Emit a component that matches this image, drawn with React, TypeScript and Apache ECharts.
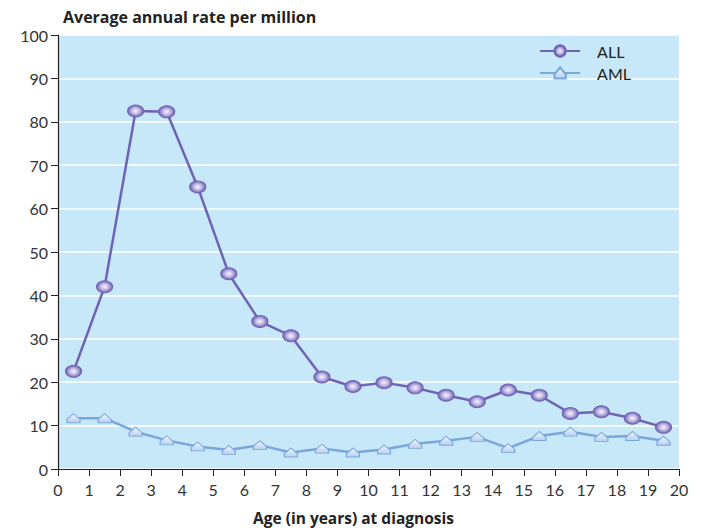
import React, { useEffect, useRef } from "react";
import * as echarts from "echarts";

const ages = [0.5, 1.5, 2.5, 3.5, 4.5, 5.5, 6.5, 7.5, 8.5, 9.5, 10.5, 11.5, 12.5, 13.5, 14.5, 15.5, 16.5, 17.5, 18.5, 19.5];
const allRates = [22.5, 42, 82.5, 82.3, 65, 45, 34, 30.7, 21.2, 19, 19.9, 18.7, 17, 15.5, 18.2, 17, 12.8, 13.2, 11.7, 9.6];
const amlRates = [11.7, 11.7, 8.6, 6.6, 5.2, 4.4, 5.5, 3.8, 4.7, 3.8, 4.5, 5.8, 6.5, 7.4, 4.8, 7.6, 8.6, 7.4, 7.6, 6.5];

const FONT = "Lato, 'Open Sans', sans-serif";
const BOLD_FONT = "'Open Sans', Lato, sans-serif";

export default function App() {
  const ref = useRef<HTMLDivElement>(null);
  useEffect(() => {
    if (!ref.current) return;
    const chart = echarts.init(ref.current, null, { renderer: "svg" });
    const allMarker = {
      type: "radial", x: 0.5, y: 0.5, r: 0.5,
      colorStops: [
        { offset: 0, color: "#f4f2fb" },
        { offset: 0.45, color: "#c9c1e6" },
        { offset: 1, color: "#6c5fb4" },
      ],
    };
    const amlMarker = {
      type: "linear", x: 0, y: 0, x2: 0, y2: 1,
      colorStops: [
        { offset: 0, color: "#f2f8fd" },
        { offset: 1, color: "#b5cfee" },
      ],
    };
    chart.setOption({
      animation: false,
      backgroundColor: "#ffffff",
      title: {
        text: "Average annual rate per million",
        left: 58, top: 4,
        textStyle: { fontFamily: BOLD_FONT, fontWeight: "bold", fontSize: 16, color: "#222" },
      },
      legend: {
        right: 72, top: 38, orient: "vertical", itemGap: 6,
        itemWidth: 40, itemHeight: 14,
        textStyle: { fontFamily: FONT, fontSize: 16, color: "#222", padding: [0, 0, 0, 12] },
        data: ["ALL", "AML"],
      },
      grid: {
        left: 58, right: 29, top: 35, bottom: 59, show: true, backgroundColor: "#c6e8f8", borderWidth: 0,
        containLabel: false, outerBoundsMode: "none",
      },
      xAxis: {
        type: "value", min: 0, max: 20, interval: 1,
        name: "Age (in years) at diagnosis", nameLocation: "middle", nameGap: 41,
        nameTextStyle: { fontFamily: BOLD_FONT, fontWeight: "bold", fontSize: 15.5, lineHeight: 16, color: "#222", padding: [0, 30, 0, 0] },
        axisLine: { show: true, lineStyle: { color: "#222", width: 1.2 } },
        axisTick: { show: true, inside: false, length: 7, lineStyle: { color: "#222" } },
        axisLabel: { fontFamily: FONT, fontSize: 16, color: "#333", margin: 12 },
        splitLine: { show: false },
      },
      yAxis: {
        type: "value", min: 0, max: 100, interval: 10,
        axisLine: { show: true, lineStyle: { color: "#222", width: 1.2 } },
        axisTick: { show: true, inside: false, length: 7, lineStyle: { color: "#222" } },
        axisLabel: { fontFamily: FONT, fontSize: 16, color: "#333", margin: 10 },
        splitLine: { show: true, lineStyle: { color: "#ffffff", width: 1.5 } },
      },
      series: [
        {
          name: "ALL", type: "line",
          data: ages.map((a, i) => [a, allRates[i]]),
          symbol: "circle", symbolSize: [16, 12], showAllSymbol: true,
          lineStyle: { color: "#6f63b5", width: 2.5 },
          itemStyle: { color: allMarker, borderColor: "#6f63b5", borderWidth: 1 },
          z: 3,
        },
        {
          name: "AML", type: "line",
          data: ages.map((a, i) => [a, amlRates[i]]),
          symbol: "path://M0,5 L6,0 L12,5 L12,8 L0,8 Z", symbolSize: [13, 9], showAllSymbol: true,
          lineStyle: { color: "#7ba6dc", width: 2.5 },
          itemStyle: { color: amlMarker, borderColor: "#7ba6dc", borderWidth: 1 },
          z: 2,
        },
      ],
    });
    return () => chart.dispose();
  }, []);
  return <div ref={ref} style={{ width: 708, height: 528, position: "absolute", left: 0, top: 0 }} />;
}
